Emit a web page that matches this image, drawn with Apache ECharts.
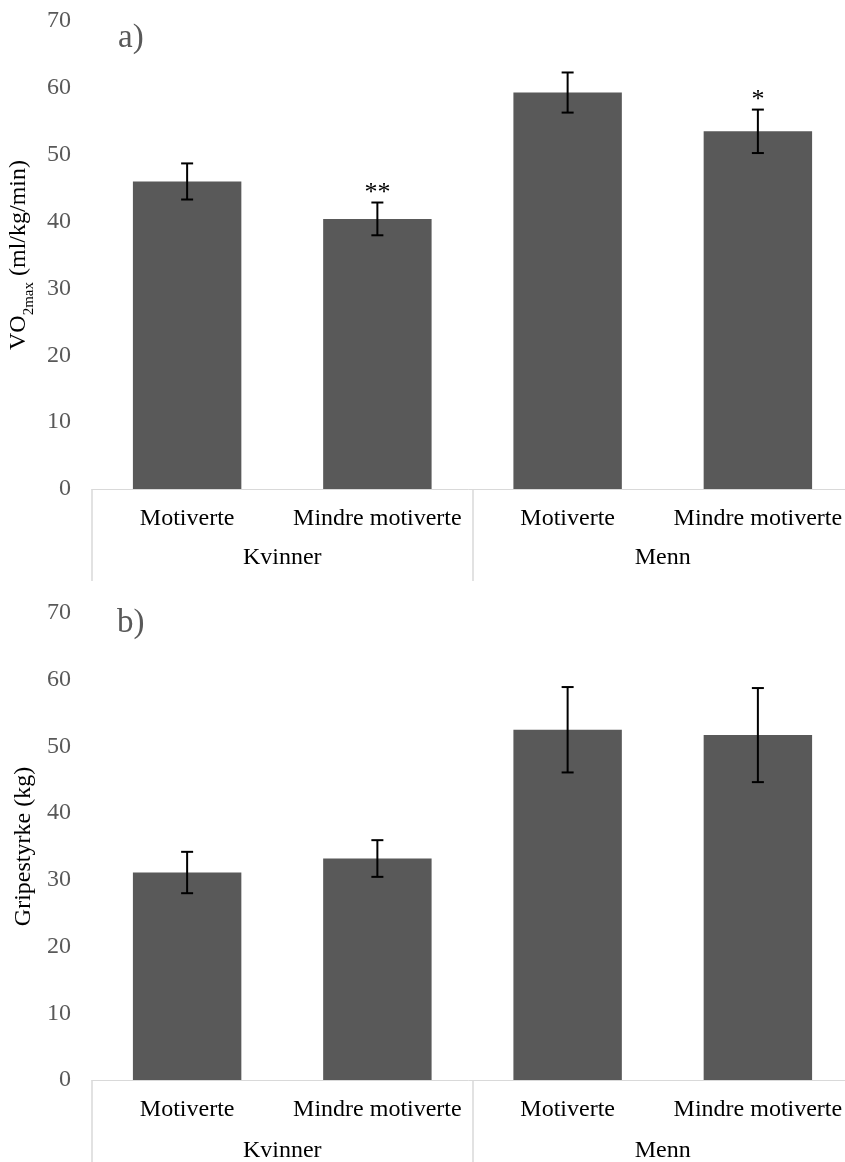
<!DOCTYPE html>
<html>
<head>
<meta charset="utf-8">
<script src="https://cdn.jsdelivr.net/npm/echarts@6/dist/echarts.min.js"></script>
<style>html,body{margin:0;padding:0;background:#fff}#c{width:845px;height:1162px}</style>
</head>
<body>
<div id="c"></div>
<script>
const categories = ['Motiverte', 'Mindre motiverte', 'Motiverte', 'Mindre motiverte'];
const groups = ['Kvinner', 'Menn'];
const vo2Mean = [46.0, 40.4, 59.3, 53.5];
const vo2Err = [2.7, 2.45, 3.0, 3.25];
const vo2Sig = ['', '**', '', '*'];
const gripMean = [31.1, 33.2, 52.5, 51.7];
const gripErr = [3.1, 2.75, 6.4, 7.05];
const gripSig = ['', '', '', ''];
const yMin = 0, yMax = 70, yStep = 10;

const FONT = 'Liberation Serif';
const chart = echarts.init(document.getElementById('c'), null, {renderer: 'canvas'});

function errRender(sig) {
  return function (params, api) {
    const i = api.value(0), m = api.value(1), e = api.value(2);
    const top = api.coord([i, m + e]);
    const bot = api.coord([i, m - e]);
    const hw = 6;
    const st = {stroke: '#000', lineWidth: 2};
    const children = [
      {type: 'line', shape: {x1: top[0], y1: top[1], x2: bot[0], y2: bot[1]}, style: st},
      {type: 'line', shape: {x1: top[0] - hw, y1: top[1], x2: top[0] + hw, y2: top[1]}, style: st},
      {type: 'line', shape: {x1: bot[0] - hw, y1: bot[1], x2: bot[0] + hw, y2: bot[1]}, style: st}
    ];
    if (sig[i]) {
      children.push({type: 'text', x: top[0], y: top[1] - 9,
        style: {text: sig[i], fill: '#000', font: '26px "' + FONT + '"', align: 'center', verticalAlign: 'middle'}});
    }
    return {type: 'group', children};
  };
}

function xAxes(gi, groupMargin) {
  return [
    {type: 'category', gridIndex: gi, data: categories, position: 'bottom',
      axisLine: {show: true, lineStyle: {color: '#d9d9d9', width: 1}},
      axisTick: {show: false},
      axisLabel: {color: '#000', fontFamily: FONT, fontSize: 24, margin: 18, interval: 0}},
    {type: 'category', gridIndex: gi, data: groups, position: 'bottom',
      axisLine: {show: false},
      axisTick: {show: true, length: 92, lineStyle: {color: '#d9d9d9', width: 1.5}},
      axisLabel: {color: '#000', fontFamily: FONT, fontSize: 24, margin: groupMargin, interval: 0}}
  ];
}

function yAxis(gi, name, gap) {
  return {type: 'value', gridIndex: gi, min: yMin, max: yMax, interval: yStep,
    name: name, nameLocation: 'middle', nameGap: gap,
    nameTextStyle: {color: '#000', fontFamily: FONT, fontSize: 24,
      rich: {
        a: {fontFamily: FONT, fontSize: 24, color: '#000', lineHeight: 26, verticalAlign: 'top'},
        b: {fontFamily: FONT, fontSize: 15, color: '#000', lineHeight: 15, padding: [14, 0, 0, 0], verticalAlign: 'top'}
      }},
    axisLine: {show: false}, axisTick: {show: false}, splitLine: {show: false},
    axisLabel: {color: '#595959', fontFamily: FONT, fontSize: 24, margin: 21}};
}

const option = {
  animation: false,
  backgroundColor: '#fff',
  grid: [
    {left: 92, width: 761, top: 21, height: 468, outerBoundsMode: 'none', containLabel: false},
    {left: 92, width: 761, top: 613, height: 467, outerBoundsMode: 'none', containLabel: false}
  ],
  xAxis: [...xAxes(0, 57), ...xAxes(1, 59)],
  yAxis: [
    yAxis(0, '{a|VO}{b|2max}{a| (ml/kg/min)}', 46),
    yAxis(1, 'Gripestyrke (kg)', 47)
  ],
  graphic: [
    {type: 'text', left: 118, top: 22, style: {text: 'a)', fill: '#595959', font: '33px "' + FONT + '"'}},
    {type: 'text', left: 117, top: 607, style: {text: 'b)', fill: '#595959', font: '33px "' + FONT + '"'}}
  ],
  series: [
    {type: 'bar', xAxisIndex: 0, yAxisIndex: 0, data: vo2Mean, barWidth: '57%',
      itemStyle: {color: '#595959'}},
    {type: 'custom', xAxisIndex: 0, yAxisIndex: 0, renderItem: errRender(vo2Sig),
      data: vo2Mean.map((m, i) => [i, m, vo2Err[i]]), encode: {x: 0, y: 1}, z: 5},
    {type: 'bar', xAxisIndex: 2, yAxisIndex: 1, data: gripMean, barWidth: '57%',
      itemStyle: {color: '#595959'}},
    {type: 'custom', xAxisIndex: 2, yAxisIndex: 1, renderItem: errRender(gripSig),
      data: gripMean.map((m, i) => [i, m, gripErr[i]]), encode: {x: 0, y: 1}, z: 5}
  ]
};
chart.setOption(option);
</script>
</body>
</html>
